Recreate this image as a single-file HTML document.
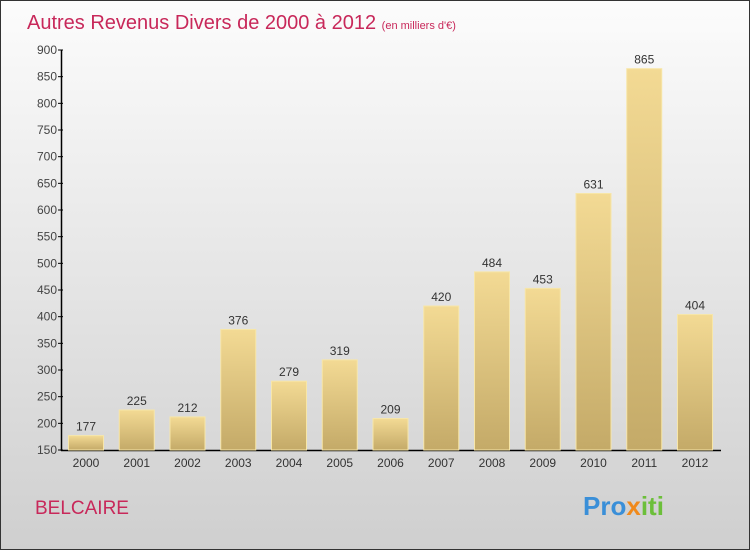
<!DOCTYPE html>
<html><head><meta charset="utf-8"><style>
body{margin:0}
#c{width:748px;height:548px;border:1px solid #333;background:linear-gradient(#fcfcfc,#cfcfcf);position:relative;font-family:"Liberation Sans",sans-serif;overflow:hidden}
</style></head><body>
<div id="c">
<svg width="748" height="548" id="s">
<defs><linearGradient id="g" x1="0" y1="0" x2="0" y2="1"><stop offset="0" stop-color="#f3da94"/><stop offset="1" stop-color="#c4aa68"/></linearGradient></defs>
<text x="26" y="28" font-size="20" fill="#c8285a">Autres Revenus Divers de 2000 à 2012 <tspan font-size="11">(en milliers d'€)</tspan></text>
<text x="34" y="513" font-size="19" fill="#c8285a">BELCAIRE</text>
<text x="582" y="514" font-size="26" font-weight="bold"><tspan fill="#3a8fd8">Pro</tspan><tspan fill="#f08a1c">x</tspan><tspan fill="#6cbf3a">iti</tspan></text>
<g id="ax"></g><g id="bars"></g>
</svg></div>
<script>
const categories=["2000","2001","2002","2003","2004","2005","2006","2007","2008","2009","2010","2011","2012"];
const values=[177,225,212,376,279,319,209,420,484,453,631,865,404];
const yTicks=[150,200,250,300,350,400,450,500,550,600,650,700,750,800,850,900];
const NS="http://www.w3.org/2000/svg";
const y0=449,y1=49,vmin=150,vmax=900;
function y(v){return y0-(v-vmin)/(vmax-vmin)*(y0-y1);}
function xc(i){return 85+i*50.75;}
function mk(t,a,p){const e=document.createElementNS(NS,t);for(const k in a)e.setAttribute(k,a[k]);p.appendChild(e);return e;}
const ax=document.getElementById('ax'),bars=document.getElementById('bars');
let l=mk('line',{x1:60.5,y1:y1,x2:60.5,y2:y0+1,stroke:'#000','stroke-width':1.5},ax);


l=mk('line',{x1:60,y1:y0+0.5,x2:720,y2:y0+0.5,stroke:'#000','stroke-width':1.5},ax);


yTicks.forEach(v=>{
  mk('line',{x1:57,x2:62,y1:y(v),y2:y(v),stroke:'#000'},ax);
  const t=mk('text',{x:56,y:y(v)+4,'font-size':12,'text-anchor':'end',fill:'#444'},ax);t.textContent=v;
  
  
});
categories.forEach((c,i)=>{
  const v=values[i],x=xc(i);
  const r=mk('rect',{x:x-17.5,y:y(v),width:35,height:y0-y(v),fill:'url(#g)',stroke:'#f7e6a8','stroke-width':1},bars);
  
  
  const t=mk('text',{x:x,y:y(v)-5,'font-size':12,'text-anchor':'middle',fill:'#333'},bars);t.textContent=v;
  
  
  const tl=mk('text',{x:x,y:466,'font-size':12,'text-anchor':'middle',fill:'#333'},ax);tl.textContent=c;
  
  
});
</script></body></html>
